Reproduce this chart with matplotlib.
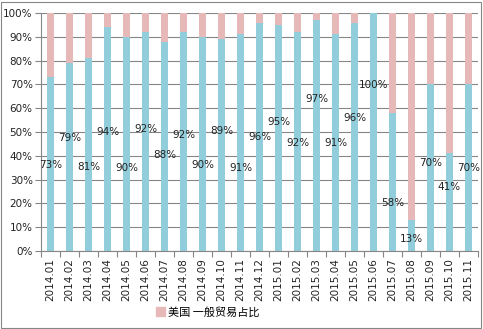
import matplotlib.pyplot as plt
import matplotlib.patches as mpatches
import numpy as np

plt.rcParams['font.family'] = ['DejaVu Sans', 'Noto Sans CJK SC']

months = ["2014.01", "2014.02", "2014.03", "2014.04", "2014.05", "2014.06",
          "2014.07", "2014.08", "2014.09", "2014.10", "2014.11", "2014.12",
          "2015.01", "2015.02", "2015.03", "2015.04", "2015.05", "2015.06",
          "2015.07", "2015.08", "2015.09", "2015.10", "2015.11"]
general_share = [73, 79, 81, 94, 90, 92, 88, 92, 90, 89, 91, 96,
                 95, 92, 97, 91, 96, 100, 58, 13, 70, 41, 70]
# heights (in %) where each value label sits
label_y = [36, 47.6, 35.2, 49.9, 34.7, 51.1, 40.3, 48.9, 36.1, 50.3, 34.7, 48.0,
           54.2, 45.5, 63.7, 45.2, 55.9, 69.7, 20.3, 5.0, 36.8, 26.8, 34.7]
legend_name = "美国 一般贸易占比"

blue = "#92CDDC"
pink = "#E6B9B8"

W, H = 483, 329
fig = plt.figure(figsize=(W / 100, H / 100), dpi=100)
ax = fig.add_axes([41 / W, (H - 251) / H, (478 - 41) / W, (251 - 13) / H])

x = np.arange(len(months))
share = np.array(general_share)
rest = 100 - share
ax.bar(x, share, width=0.4, color=blue, zorder=2)
ax.bar(x, rest, bottom=share, width=0.4, color=pink, zorder=2)

for xi, v, ly in zip(x, general_share, label_y):
    ax.text(xi, ly, f"{v}%", ha="center", va="center", fontsize=7.5,
            color="#222222", zorder=3)

ax.set_xlim(-0.5, len(months) - 0.5)
ax.set_ylim(0, 100)
ax.set_yticks(np.arange(0, 101, 10))
ax.set_yticklabels([f"{t}%" for t in range(0, 101, 10)], fontsize=7.5, color="#222222")
ax.yaxis.grid(True, color="#868686", linewidth=0.8, zorder=0)
ax.set_axisbelow(True)

ax.set_xticks(x)
ax.set_xticklabels(months, rotation=90, fontsize=7.5, color="#222222")
ax.set_xticks(np.arange(-0.5, len(months)), minor=True)
ax.tick_params(axis="x", which="major", length=0, pad=5)
ax.tick_params(axis="x", which="minor", length=4, color="#868686", width=0.8)
ax.tick_params(axis="y", length=4, color="#868686", width=0.8, pad=2)

for side in ("top", "right"):
    ax.spines[side].set_visible(False)
for side in ("left", "bottom"):
    ax.spines[side].set_color("#868686")
    ax.spines[side].set_linewidth(0.8)

handle = mpatches.Patch(color=pink, label=legend_name)
fig.legend(handles=[handle], loc="center", bbox_to_anchor=(208 / W, 1 - 312 / H),
           frameon=False, fontsize=8, handlelength=0.8, handleheight=0.8,
           handletextpad=0.3, prop={"family": ["Noto Sans CJK SC"], "size": 8})

# outer chart frame
fig.patches.append(mpatches.Rectangle((1 / W, 1 / H), 480 / W, 326 / H,
                                      transform=fig.transFigure, fill=False,
                                      edgecolor="#868686", linewidth=0.8))

fig.savefig("out.png", dpi=100)
